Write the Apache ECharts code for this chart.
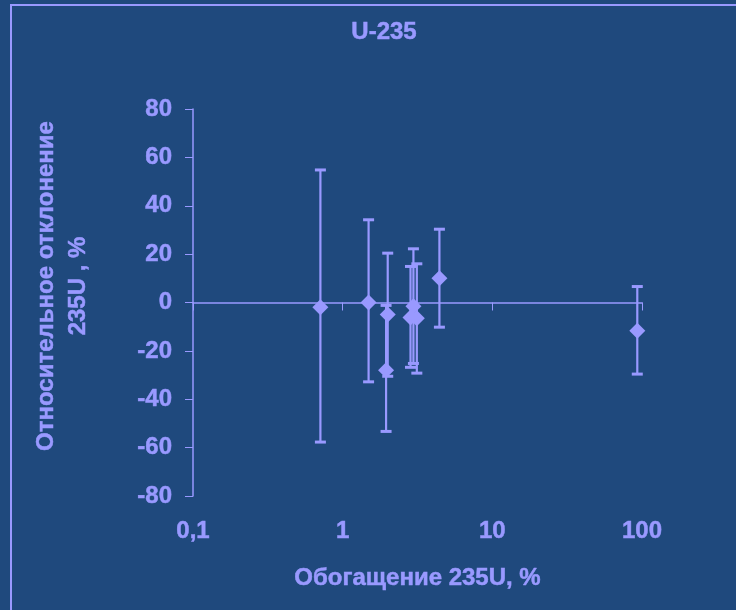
<!DOCTYPE html>
<html>
<head>
<meta charset="utf-8">
<script src="https://cdn.jsdelivr.net/npm/echarts@6/dist/echarts.min.js"></script>
<style>
  html, body { margin: 0; padding: 0; background: #1F497D; }
  #chart { width: 736px; height: 610px; }
</style>
</head>
<body>
<div id="chart"></div>
<script>
// обогащение 235U, %
var enrich = [0.71, 1.49, 2.0, 1.95, 2.97, 2.84, 3.13, 4.43, 93];
// относительное отклонение, %
var dev = [-2, 0, -5, -28, -1.5, -6.2, -6.5, 10, -11.7];
// границы погрешности
var errLow = [-57.7, -32.8, -30.5, -53.3, -25.2, -26.8, -29.2, -10.2, -29.6];
var errHigh = [54.8, 34.2, 20.4, -1.2, 22.2, 14.9, 16, 30.3, 6.6];
var yTicks = [-80, -60, -40, -20, 0, 20, 40, 60, 80];

var col = '#9999FF';
var font = 'Liberation Sans';
var fs = 24;

// общий стиль текста (жирный, чуть обведённый)
function txt(extra) {
    var s = { color: col, fontFamily: font, fontWeight: 'bold', fontSize: fs,
              textBorderColor: col, textBorderWidth: 0.5 };
    for (var k in extra) s[k] = extra[k];
    return s;
}

var points = enrich.map(function (x, i) { return [x, dev[i]]; });
var bars = enrich.map(function (x, i) { return [x, errLow[i], errHigh[i]]; });

var chart = echarts.init(document.getElementById('chart'));

var option = {
    backgroundColor: '#1F497D',
    animation: false,
    title: {
        text: 'U-235',
        left: 379,
        textAlign: 'center',
        top: 15,
        textStyle: txt({})
    },
    graphic: [{
        type: 'rect',
        shape: { x: 11, y: 5, width: 800, height: 700 },
        style: { fill: 'none', stroke: col, lineWidth: 2 }
    }, {
        // подпись оси Y
        type: 'text',
        x: 62, y: 286,
        rotation: Math.PI / 2,
        style: {
            text: 'Относительное отклонение\n235U , %',
            fill: col,
            stroke: col,
            lineWidth: 0.5,
            font: 'bold 24px "Liberation Sans"',
            align: 'center',
            verticalAlign: 'middle',
            lineHeight: 32
        }
    }],
    grid: { left: 193, right: 94, top: 109, bottom: 114 },
    xAxis: [{
        // ось на нуле: линия и риски
        type: 'log', logBase: 10, min: 0.1, max: 100,
        axisLine: { show: true, onZero: true, lineStyle: { color: col, width: 1.5 } },
        axisTick: { show: true, inside: false, length: 8, lineStyle: { color: col } },
        minorTick: { show: false },
        axisLabel: { show: false },
        splitLine: { show: false }
    }, {
        // подписи внизу
        type: 'log', logBase: 10, min: 0.1, max: 100, position: 'bottom',
        axisLine: { show: false, onZero: false },
        axisTick: { show: false },
        splitLine: { show: false },
        axisLabel: txt({
            margin: 23,
            formatter: function (v) { return String(v).replace('.', ','); }
        }),
        name: 'Обогащение 235U, %',
        nameLocation: 'middle',
        nameGap: 70,
        nameTextStyle: txt({})
    }],
    yAxis: {
        type: 'value', min: yTicks[0], max: yTicks[yTicks.length - 1], interval: 20,
        axisLine: { show: true, onZero: false, lineStyle: { color: col, width: 1.5 } },
        axisTick: { show: true, inside: false, length: 8, lineStyle: { color: col } },
        splitLine: { show: false },
        axisLabel: txt({ margin: 21 })
    },
    series: [{
        type: 'custom',
        xAxisIndex: 0,
        data: bars,
        encode: { x: 0, y: [1, 2] },
        renderItem: function (params, api) {
            var lo = api.coord([api.value(0), api.value(1)]);
            var hi = api.coord([api.value(0), api.value(2)]);
            var w = 5.5;
            var cap = { stroke: col, lineWidth: 3 };
            return {
                type: 'group',
                children: [
                    { type: 'line', shape: { x1: hi[0], y1: hi[1], x2: lo[0], y2: lo[1] }, style: { stroke: col, lineWidth: 2.2 } },
                    { type: 'line', shape: { x1: hi[0] - w, y1: hi[1], x2: hi[0] + w, y2: hi[1] }, style: cap },
                    { type: 'line', shape: { x1: lo[0] - w, y1: lo[1], x2: lo[0] + w, y2: lo[1] }, style: cap }
                ]
            };
        },
        z: 2
    }, {
        type: 'scatter',
        xAxisIndex: 0,
        data: points,
        symbol: 'diamond',
        symbolSize: [16, 16],
        itemStyle: { color: col, opacity: 1 },
        z: 3
    }]
};

chart.setOption(option);
</script>
</body>
</html>
